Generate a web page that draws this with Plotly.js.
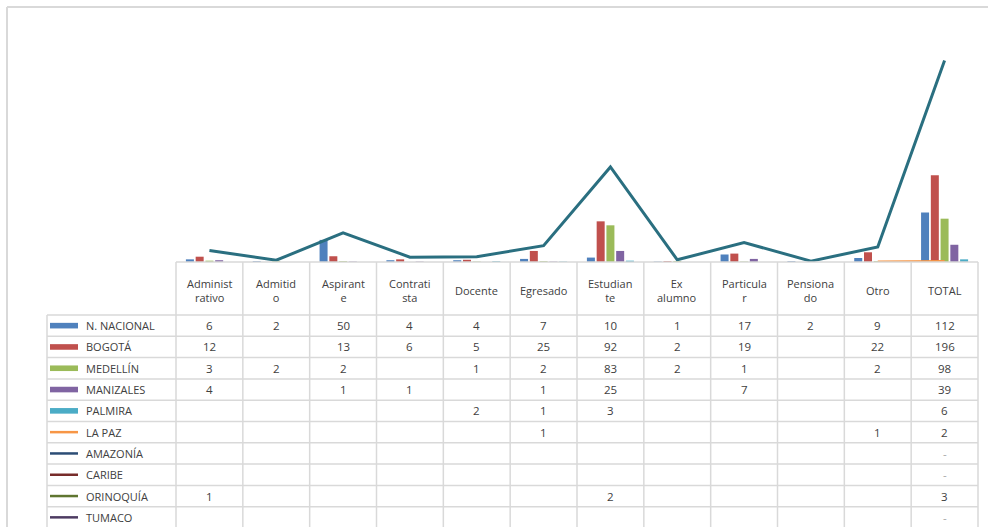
<!DOCTYPE html>
<html><head><meta charset="utf-8">
<script src="https://cdn.plot.ly/plotly-3.0.1.min.js"></script>
<style>html,body{margin:0;padding:0;background:#fff;}#chart{width:988px;height:527px;}</style>
</head><body><div id="chart"></div>
<script>
const categories = ["Administrativo","Admitido","Aspirante","Contratista","Docente","Egresado","Estudiante","Ex alumno","Particular","Pensionado","Otro","TOTAL"];
const headerLabels = ["Administ<br>rativo","Admitid<br>o","Aspirant<br>e","Contrati<br>sta","Docente","Egresado","Estudian<br>te","Ex<br>alumno","Particula<br>r","Pensiona<br>do","Otro","TOTAL"];
const seriesNames = ["N. NACIONAL","BOGOTÁ","MEDELLÍN","MANIZALES","PALMIRA","LA PAZ","AMAZONÍA","CARIBE","ORINOQUÍA","TUMACO"];
const nNacional = [6,2,50,4,4,7,10,1,17,2,9,112];
const bogota    = [12,null,13,6,5,25,92,2,19,null,22,196];
const medellin  = [3,2,2,null,1,2,83,2,1,null,2,98];
const manizales = [4,null,1,1,null,1,25,null,7,null,null,39];
const palmira   = [null,null,null,null,2,1,3,null,null,null,null,6];
const laPaz     = [null,null,null,null,null,1,null,null,null,null,1,2];
const amazonia  = [null,null,null,null,null,null,null,null,null,null,null,0];
const caribe    = [null,null,null,null,null,null,null,null,null,null,null,0];
const orinoquia = [1,null,null,null,null,null,2,null,null,null,null,3];
const tumaco    = [null,null,null,null,null,null,null,null,null,null,null,0];
const totalSeries = [26,4,66,11,12,37,215,5,44,2,34,456];

const seriesValues = [nNacional,bogota,medellin,manizales,palmira,laPaz,amazonia,caribe,orinoquia,tumaco];
const seriesColors = ["#4F81BD","#C0504D","#9BBB59","#8064A2","#4BACC6","#F79646","#2C4D75","#772C2A","#5F7530","#4D3B62"];
const seriesIsBar = [true,true,true,true,true,false,false,false,false,false];
const totalColor = "#2A6F80";

const FONT = "'Open Sans', Roboto, sans-serif";
const TXT = "#404040";
const GRID = "#d9d9d9";

// geometry helpers (pixel -> paper)
const L = 176, R = 10, T = 41, B = 265, W = 988, H = 527;
const pw = W - L - R, ph = H - T - B;
const px2x = p => (p - L) / pw;
const py2y = p => ((H - B) - p) / ph;
const rowTop = 315, rowH = 21.3;

const traces = [];
seriesValues.forEach((vals, s) => {
  if (seriesIsBar[s]) {
    traces.push({type:'bar', name:seriesNames[s], x:categories, y:vals, marker:{color:seriesColors[s]}, hoverinfo:'skip'});
  }
});
seriesValues.forEach((vals, s) => {
  if (!seriesIsBar[s]) {
    traces.push({type:'scatter', mode:'lines', name:seriesNames[s], x:categories, y:vals, connectgaps:false,
      line:{color:seriesColors[s], width:2.25}, hoverinfo:'skip'});
  }
});
traces.push({type:'scatter', mode:'lines', name:'TOTAL', x:categories, y:totalSeries,
  line:{color:totalColor, width:3}, hoverinfo:'skip'});

const annotations = [];
const shapes = [];

// header labels
categories.forEach((c, i) => {
  annotations.push({xref:'x', yref:'paper', x:c, y:py2y(290), text:headerLabels[i], showarrow:false,
    xanchor:'center', yanchor:'middle', font:{family:FONT, size:11, color:TXT}});
});

// rows
seriesValues.forEach((vals, s) => {
  const cy = py2y(rowTop + rowH * (s + 0.5));
  annotations.push({xref:'paper', yref:'paper', x:px2x(84), y:cy, text:seriesNames[s], showarrow:false,
    xanchor:'left', yanchor:'middle', font:{family:FONT, size:11, color:TXT}});
  vals.forEach((v, i) => {
    if (v === null) return;
    annotations.push({xref:'x', yref:'paper', x:categories[i], y:cy, text: v === 0 ? '-' : String(v), showarrow:false,
      xanchor:'center', yanchor:'middle', font:{family:FONT, size:11.5, color: v === 0 ? '#a6a6a6' : TXT}});
  });
  // legend key
  const kx0 = px2x(50), kx1 = px2x(78);
  if (seriesIsBar[s]) {
    shapes.push({type:'rect', xref:'paper', yref:'paper', x0:kx0, x1:kx1, y0:cy - 2.8/ph, y1:cy + 2.8/ph,
      fillcolor:seriesColors[s], line:{width:0}});
  } else {
    shapes.push({type:'line', xref:'paper', yref:'paper', x0:kx0, x1:kx1, y0:cy, y1:cy,
      line:{color:seriesColors[s], width:2.5}});
  }
});

// grid lines
const gl = {color:GRID, width:1.5};
shapes.push({type:'line', xref:'paper', yref:'paper', x0:0, x1:1, y0:0, y1:0, line:gl});
for (let k = 0; k <= 10; k++) {
  const y = py2y(rowTop + rowH * k);
  shapes.push({type:'line', xref:'paper', yref:'paper', x0:px2x(47), x1:1, y0:y, y1:y, line:gl});
}
for (let i = 0; i <= categories.length; i++) {
  const x = i / categories.length;
  shapes.push({type:'line', xref:'paper', yref:'paper', x0:x, x1:x, y0:0, y1:py2y(530), line:gl});
}
shapes.push({type:'line', xref:'paper', yref:'paper', x0:px2x(47), x1:px2x(47), y0:py2y(rowTop), y1:py2y(530), line:gl});
// outer chart border
shapes.push({type:'line', xref:'paper', yref:'paper', x0:px2x(7), x1:px2x(990), y0:py2y(7), y1:py2y(7), line:{color:GRID, width:2}});
shapes.push({type:'line', xref:'paper', yref:'paper', x0:px2x(7), x1:px2x(7), y0:py2y(7), y1:py2y(530), line:{color:GRID, width:2}});

const layout = {
  width:W, height:H,
  margin:{l:L, r:R, t:T, b:B, pad:0},
  paper_bgcolor:'#fff', plot_bgcolor:'#fff',
  showlegend:false,
  barmode:'group', bargap:0.27, bargroupgap:0.18,
  xaxis:{type:'category', range:[-0.5, categories.length - 0.5], showticklabels:false, ticks:'', showgrid:false, zeroline:false, showline:false, fixedrange:true},
  yaxis:{range:[0,500], visible:false, showgrid:false, zeroline:false, fixedrange:true},
  annotations:annotations,
  shapes:shapes
};

Plotly.newPlot('chart', traces, layout, {displayModeBar:false, staticPlot:true});
</script>
</body></html>
